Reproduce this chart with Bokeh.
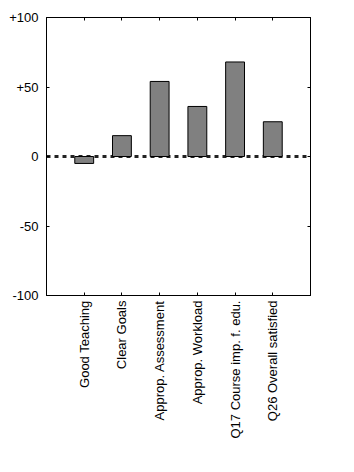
from bokeh.plotting import figure
from bokeh.models import FactorRange, Range1d, FixedTicker, LinearAxis, CategoricalAxis, Span, ColumnDataSource
from bokeh.embed import file_html
from bokeh.resources import INLINE
import math

categories = ["Good Teaching", "Clear Goals", "Approp. Assessment", "Approp. Workload",
              "Q17 Course imp. f. edu.", "Q26 Overall satisfied"]
values = [-5, 15, 54, 36, 68, 25]
y_ticks = [-100, -50, 0, 50, 100]
y_tick_labels = ["-100", "-50", "0", "+50", "+100"]

src = ColumnDataSource(dict(cat=categories, val=values))

p = figure(width=354, height=472, output_backend="svg", toolbar_location=None,
           x_range=FactorRange(*categories, range_padding=0.5, range_padding_units="absolute"),
           y_range=Range1d(-100, 100),
           min_border_left=46, min_border_right=44, min_border_top=17, min_border_bottom=177)

p.xgrid.visible = False
p.ygrid.visible = False
p.outline_line_color = "black"
p.outline_line_width = 1
p.background_fill_color = "white"
p.border_fill_color = "white"

FONT = "Liberation Sans"

zero = Span(location=0, dimension="width", line_color="#222222", line_width=3,
            line_dash="4 4", level="underlay")
p.add_layout(zero)

p.vbar(x="cat", top="val", bottom=0, width=0.5, source=src,
       fill_color="#808080", line_color="black", line_width=1)

# left axis
ya = p.yaxis[0]
ya.ticker = FixedTicker(ticks=y_ticks)
ya.major_label_overrides = {t: l for t, l in zip(y_ticks, y_tick_labels)}
ya.major_tick_in = 3
ya.major_tick_out = 0
ya.minor_tick_line_color = None
ya.major_label_text_font = FONT
ya.major_label_text_font_size = "13px"
ya.major_label_text_color = "black"
ya.major_label_standoff = 8
ya.axis_line_color = "black"

# bottom axis
xa = p.xaxis[0]
xa.major_label_orientation = math.pi / 2
xa.major_tick_in = 3
xa.major_tick_out = 0
xa.major_label_text_font = FONT
xa.major_label_text_font_size = "13px"
xa.major_label_text_color = "black"
xa.major_label_standoff = 5
xa.axis_line_color = "black"

# right axis (ticks only)
ra = LinearAxis(ticker=FixedTicker(ticks=y_ticks), major_label_text_color=None,
                major_tick_in=3, major_tick_out=0, minor_tick_line_color=None,
                axis_line_color="black", major_label_standoff=0)
p.add_layout(ra, "right")

# top axis (ticks only)
ta = CategoricalAxis(major_label_text_color=None, major_tick_in=3, major_tick_out=0,
                     axis_line_color="black", major_label_standoff=0)
p.add_layout(ta, "above")

open("out.html", "w").write(file_html(p, INLINE))
